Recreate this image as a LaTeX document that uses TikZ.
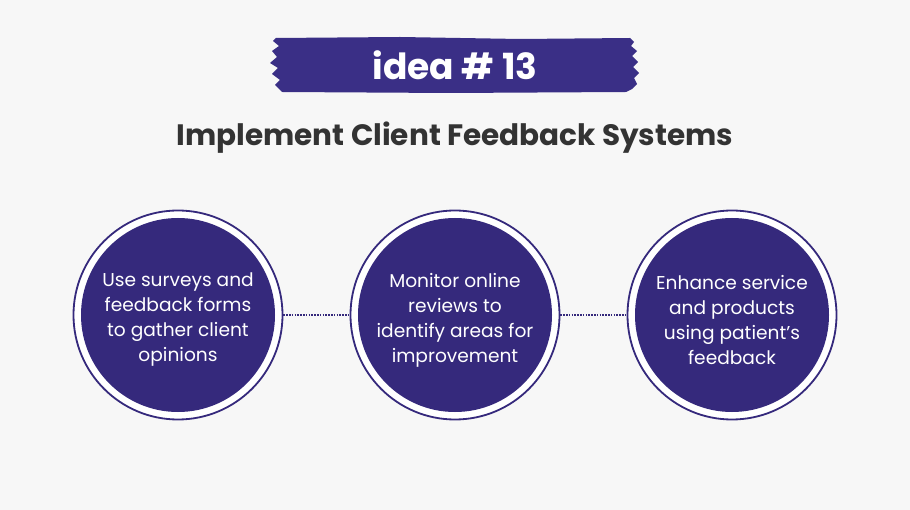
\documentclass[tikz,border=0pt]{standalone}
\usepackage{fontspec}
\setmainfont{Poppins}
\definecolor{bgc}{HTML}{F7F7F7}
\definecolor{navy}{HTML}{35297C}
\definecolor{bannerc}{HTML}{3A2F86}
\definecolor{titlec}{HTML}{333333}
\begin{document}
\begin{tikzpicture}[x=1pt,y=-1pt,
  ringc/.style={circle,draw=navy,line width=1.8pt,fill=white,minimum size=209pt,inner sep=0pt},
  discc/.style={circle,fill=navy,minimum size=194pt,inner sep=0pt},
  disctext/.style={text=white,align=center,font=\fontsize{18.6}{25}\selectfont},
  dotline/.style={navy,line width=1.6pt,dash pattern=on 1.6pt off 1.2pt}]
\fill[bgc] (0,0) rectangle (910,510);
\useasboundingbox (0,0) rectangle (910,510);
% banner
\fill[bannerc] (276,38) -- (400,37) -- (520,39) -- (630,38) -- (634,42) -- (631,46) -- (637,51) -- (632,56) -- (638,62) -- (633,67) -- (639,73) -- (634,78) -- (637,84) -- (632,89) -- (626,92)
 -- (450,93) -- (282,92) -- (278,88) -- (275,85) -- (280,80) -- (272,74) -- (278,68) -- (270,63) -- (277,57) -- (272,51) -- (279,46) -- (273,41) -- cycle;
\node[text=white,font=\fontsize{36}{40}\selectfont\bfseries] (idea) at (455,65) {idea \# 13};
\node[text=titlec,font=\fontsize{29.5}{34}\selectfont\bfseries] (title) at (455,138) {Implement Client Feedback Systems};
% circles
\node[ringc] (r1) at (178,315) {};
\node[ringc] (r2) at (455,315) {};
\node[ringc] (r3) at (732,315) {};
\node[discc] (c1) at (178,315) {};
\node[discc] (c2) at (455,315) {};
\node[discc] (c3) at (732,315) {};
\node[disctext] (t1) at (178,320) {Use surveys and\\feedback forms\\to gather client\\opinions};
\node[disctext] (t2) at (455,320) {Monitor online\\reviews to\\identify areas for\\improvement};
\node[disctext] (t3) at (732,320) {Enhance service\\and products\\using patient’s\\feedback};
\draw[dotline] (r1.east) -- (r2.west);
\draw[dotline] (r2.east) -- (r3.west);
\end{tikzpicture}
\end{document}
